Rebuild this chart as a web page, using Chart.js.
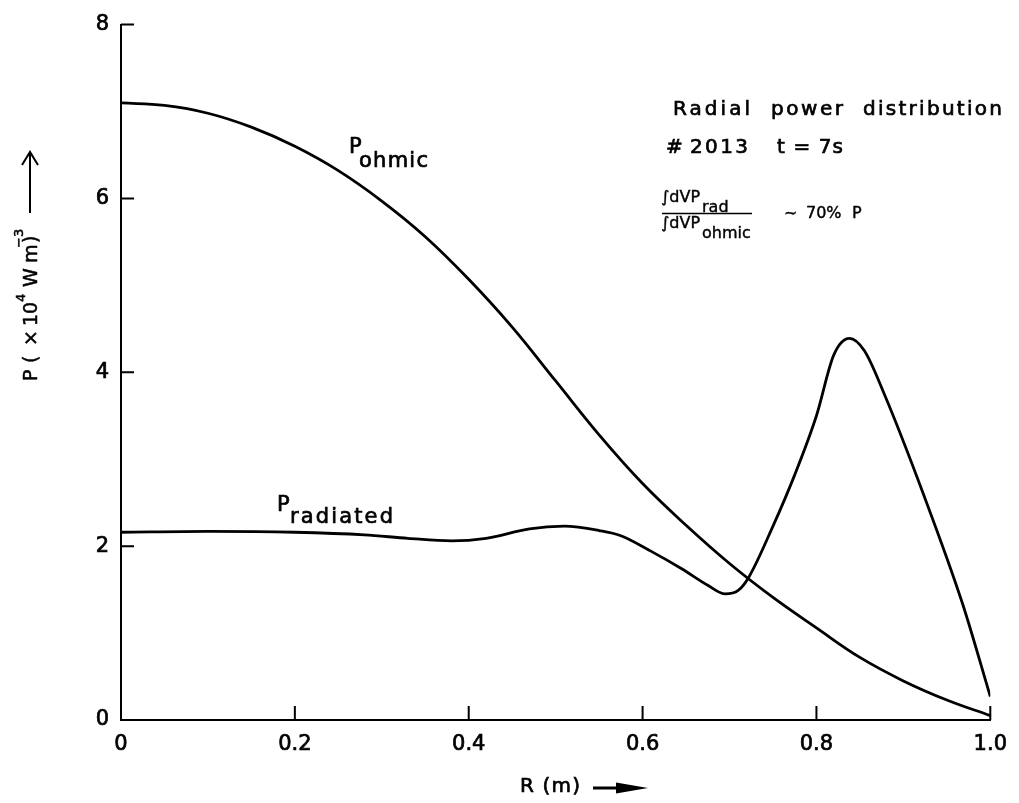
<!DOCTYPE html>
<html>
<head>
<meta charset="utf-8">
<script src="https://cdn.jsdelivr.net/npm/chart.js@4.4.0/dist/chart.umd.min.js"></script>
<style>
    html, body { margin: 0; padding: 0; background: #fff; }
    #wrap { width: 1019px; height: 803px; }
</style>
</head>
<body>
<div id="wrap"><canvas id="powerChart" width="1019" height="803"></canvas></div>
<script>
// Radius (m) and power density (x 10^4 W m^-3)
const ohmicR = [0, 0.05, 0.1, 0.15, 0.2, 0.25, 0.3, 0.35, 0.4, 0.45, 0.5, 0.55, 0.6, 0.65, 0.7, 0.75, 0.8, 0.85, 0.9, 0.95, 1.0];
const ohmicP = [7.10, 7.07, 6.98, 6.82, 6.60, 6.32, 5.97, 5.56, 5.07, 4.52, 3.90, 3.28, 2.72, 2.24, 1.80, 1.41, 1.06, 0.72, 0.45, 0.23, 0.05];

const radR = [0, 0.1, 0.2, 0.28, 0.33, 0.38, 0.42, 0.47, 0.51, 0.55, 0.575, 0.61, 0.645, 0.675, 0.695, 0.71, 0.722, 0.75, 0.775, 0.8, 0.82, 0.838, 0.855, 0.878, 0.923, 0.968, 1.0];
const radP = [2.16, 2.17, 2.16, 2.13, 2.09, 2.06, 2.09, 2.20, 2.23, 2.18, 2.12, 1.94, 1.74, 1.55, 1.45, 1.49, 1.64, 2.23, 2.82, 3.50, 4.20, 4.39, 4.25, 3.75, 2.60, 1.34, 0.27];

const xTicks = [0, 0.2, 0.4, 0.6, 0.8, 1.0];
const yTicks = [0, 2, 4, 6, 8];

const FONT = "'DejaVu Sans', sans-serif";
const INK = 0.7; // extra stroke so the text looks like the heavier plotter lettering

// text with extra letter spacing so it spans a given width
function spaced(ctx, text, x, y, width) {
    const w = ctx.measureText(text).width;
    const n = text.length - 1;
    ctx.letterSpacing = (n > 0 && width) ? ((width - w) / n) + 'px' : '0px';
    ctx.fillText(text, x, y);
    ctx.strokeText(text, x, y);
    ctx.letterSpacing = '0px';
}

function txt(ctx, text, x, y) {
    ctx.fillText(text, x, y);
    ctx.strokeText(text, x, y);
}

// inward tick marks, like the original plotter axes
const inwardTicks = {
    id: 'inwardTicks',
    afterDraw(chart) {
        const { ctx, chartArea: a, scales: { x, y } } = chart;
        ctx.save();
        ctx.strokeStyle = '#000';
        ctx.lineWidth = 2;
        ctx.beginPath();
        x.ticks.forEach(t => {
            if (t.value === 0) return;
            const px = x.getPixelForValue(t.value);
            ctx.moveTo(px, a.bottom);
            ctx.lineTo(px, a.bottom - 14);
        });
        y.ticks.forEach(t => {
            if (t.value === 0) return;
            const py = y.getPixelForValue(t.value);
            ctx.moveTo(a.left, py);
            ctx.lineTo(a.left + 13, py);
        });
        ctx.stroke();
        ctx.restore();
    }
};

// labels, axis titles and the note in the upper right
const notes = {
    id: 'notes',
    afterDraw(chart) {
        const ctx = chart.ctx;
        ctx.save();
        ctx.fillStyle = '#000';
        ctx.strokeStyle = '#000';
        ctx.lineWidth = INK;
        ctx.textBaseline = 'alphabetic';
        ctx.textAlign = 'left';

        // curve labels
        ctx.font = `21px ${FONT}`;
        txt(ctx, 'P', 349, 153);
        spaced(ctx, 'ohmic', 359, 167, 69);
        txt(ctx, 'P', 277, 511);
        spaced(ctx, 'radiated', 290, 523, 103);

        // title block
        ctx.font = `20px ${FONT}`;
        spaced(ctx, 'Radial', 673, 115, 77);
        spaced(ctx, 'power', 771, 115, 72);
        spaced(ctx, 'distribution', 863, 115, 139);
        txt(ctx, '#', 666, 153);
        spaced(ctx, '2013', 690, 153, 58);
        spaced(ctx, 't = 7s', 777, 153, 66);

        // ratio of volume integrals
        ctx.font = `16px ${FONT}`;
        ctx.lineWidth = 0.4;
        txt(ctx, '\u222BdVP', 661, 202);
        txt(ctx, 'rad', 702, 212);
        txt(ctx, '\u222BdVP', 661, 228);
        txt(ctx, 'ohmic', 702, 238);
        txt(ctx, '~', 784, 218);
        txt(ctx, '70%', 806, 218);
        txt(ctx, 'P', 852, 218);
        ctx.lineWidth = 1.5;
        ctx.beginPath();
        ctx.moveTo(662, 213.5);
        ctx.lineTo(752, 213.5);
        ctx.stroke();

        // x axis title with filled arrow
        ctx.font = `20px ${FONT}`;
        ctx.lineWidth = INK;
        spaced(ctx, 'R (m)', 520, 792, 60);
        ctx.fillRect(593, 786.5, 30, 3);
        ctx.beginPath();
        ctx.moveTo(616, 782.5);
        ctx.lineTo(648, 788);
        ctx.lineTo(616, 793.5);
        ctx.closePath();
        ctx.fill();

        // y axis title, rotated, with superscripts and open arrow
        ctx.save();
        ctx.translate(37, 381);
        ctx.rotate(-Math.PI / 2);
        ctx.font = `19px ${FONT}`;
        ctx.lineWidth = 0.5;
        txt(ctx, 'P', 0, 0);
        txt(ctx, '(', 18, 0);
        txt(ctx, '\u00D7', 35, 0);
        txt(ctx, '10', 55, 0);
        txt(ctx, 'W', 94, 0);
        txt(ctx, 'm', 118, 0);
        txt(ctx, ')', 138, 0);
        ctx.font = `13px ${FONT}`;
        txt(ctx, '4', 79, -12);
        txt(ctx, '\u22123', 133, -14);
        ctx.lineWidth = 2;
        ctx.beginPath();
        ctx.moveTo(168, -7);
        ctx.lineTo(229, -7);
        ctx.moveTo(216, -15);
        ctx.lineTo(229, -7);
        ctx.lineTo(216, 1);
        ctx.stroke();
        ctx.restore();

        ctx.restore();
    }
};

const ctx = document.getElementById('powerChart').getContext('2d');
new Chart(ctx, {
    type: 'line',
    data: {
        datasets: [
            {
                label: 'P ohmic',
                data: ohmicR.map((r, i) => ({ x: r, y: ohmicP[i] })),
                borderColor: '#000',
                borderWidth: 2.8,
                pointRadius: 0,
                fill: false,
                tension: 0.4
            },
            {
                label: 'P radiated',
                data: radR.map((r, i) => ({ x: r, y: radP[i] })),
                borderColor: '#000',
                borderWidth: 2.8,
                pointRadius: 0,
                fill: false,
                cubicInterpolationMode: 'monotone'
            }
        ]
    },
    options: {
        responsive: false,
        animation: false,
        layout: { padding: { left: 0, top: 22, right: 18, bottom: 0 } },
        plugins: {
            legend: { display: false },
            tooltip: { enabled: false }
        },
        scales: {
            x: {
                type: 'linear',
                min: 0,
                max: 1,
                afterBuildTicks: s => { s.ticks = xTicks.map(v => ({ value: v })); },
                afterFit: s => { s.height = 83; },
                grid: { display: false, drawTicks: false },
                border: { display: true, color: '#000', width: 2 },
                ticks: {
                    padding: 12,
                    color: '#000',
                    textStrokeColor: '#000',
                    textStrokeWidth: INK,
                    font: { family: FONT, size: 21 },
                    callback: v => v === 0 ? '0' : v.toFixed(1)
                }
            },
            y: {
                type: 'linear',
                min: 0,
                max: 8,
                afterBuildTicks: s => { s.ticks = yTicks.map(v => ({ value: v })); },
                afterFit: s => { s.width = 121; },
                grid: { display: false, drawTicks: false },
                border: { display: true, color: '#000', width: 2 },
                ticks: {
                    padding: 12,
                    color: '#000',
                    textStrokeColor: '#000',
                    textStrokeWidth: INK,
                    font: { family: FONT, size: 21 },
                    callback: v => String(v)
                }
            }
        }
    },
    plugins: [inwardTicks, notes]
});
</script>
</body>
</html>
